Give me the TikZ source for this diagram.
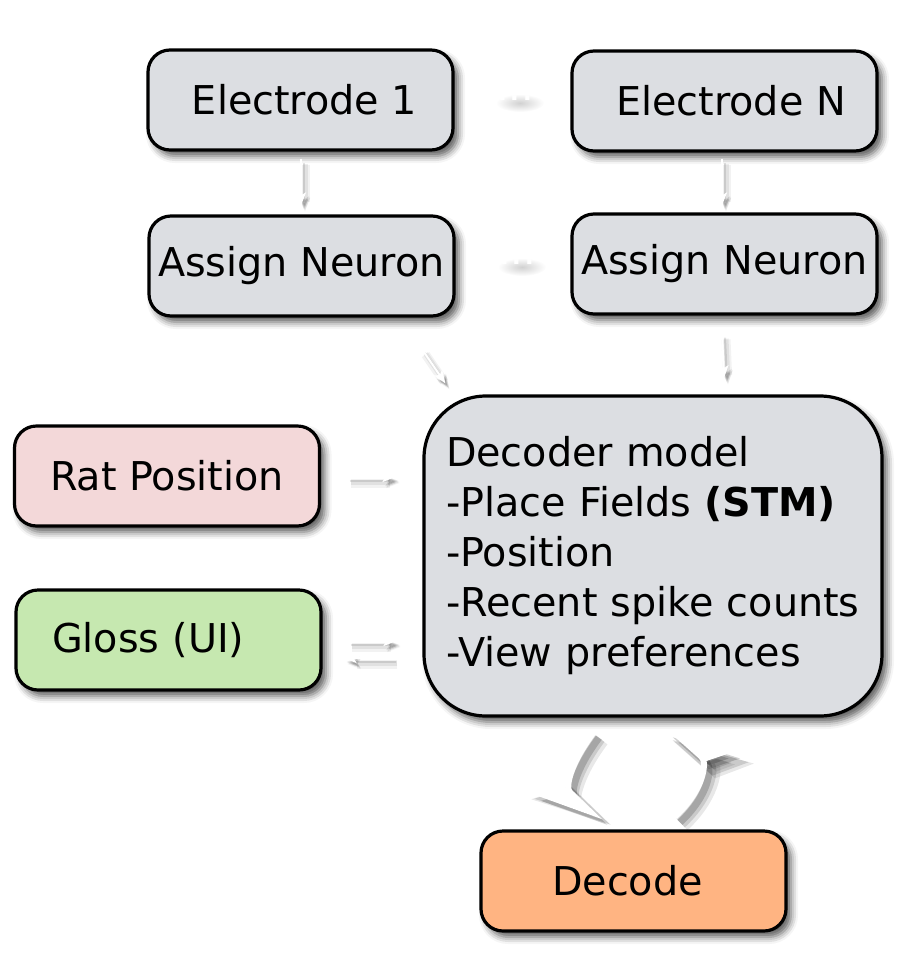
\documentclass[tikz,border=0pt]{standalone}
\usepackage{fontspec}
\setmainfont{DejaVu Sans}
\usetikzlibrary{shadows.blur,arrows.meta}
\definecolor{boxgray}{RGB}{220,222,226}
\definecolor{ratpink}{RGB}{243,216,217}
\definecolor{glossgreen}{RGB}{198,232,176}
\definecolor{decodeorange}{RGB}{255,180,130}
% draw a connector: three soft shadow layers, then the white arrow
\newcommand\shadowdraw[5]{%
  \draw[#1, #2] #5;%
  \draw[#1, #3] #5;%
  \draw[#1, #4] #5;%
  \draw[#1] #5;}
\begin{document}
\begin{tikzpicture}[x=1pt,y=-1pt,
  box/.style={draw=black, line width=3.2pt, rounded corners=22pt,
    minimum width=305pt, minimum height=100pt, inner sep=0pt,
    font=\fontsize{39.7}{50}\selectfont,
    blur shadow={shadow xshift=5pt, shadow yshift=-6pt, shadow blur radius=7pt, shadow opacity=65}},
  bigbox/.style={box, rounded corners=62pt, minimum width=458pt, minimum height=320pt, text width=414pt, align=left},
  warrow/.style={color=white, line width=2pt, -{Stealth[length=13pt,width=10pt,inset=3pt]}},
  bigarrow/.style={color=white, line width=6pt, -{Stealth[harpoon,swap,length=56pt,width=50pt,inset=14pt]}},
  shA/.style={color=black, opacity=0.05, line width=9pt, transform canvas={shift={(4pt,-6pt)}}},
  shB/.style={color=black, opacity=0.07, line width=5pt, transform canvas={shift={(4pt,-5pt)}}},
  shC/.style={color=black, opacity=0.10, transform canvas={shift={(3pt,-4pt)}}},
  bigshA/.style={color=black, opacity=0.09, line width=16pt, transform canvas={shift={(7pt,-8pt)}},
     -{Stealth[harpoon,swap,length=62pt,width=60pt,inset=15pt]}},
  bigshB/.style={color=black, opacity=0.13, line width=11pt, transform canvas={shift={(6pt,-7pt)}},
     -{Stealth[harpoon,swap,length=59pt,width=55pt,inset=14pt]}},
  bigshC/.style={color=black, opacity=0.18, line width=7pt, transform canvas={shift={(5pt,-6pt)}}},
  wtext/.style={text=white, font=\fontsize{39.7}{46}\selectfont, inner sep=0pt},
  dotshade/.style={inner color=black!18, outer color=white},
]
\useasboundingbox (0,0) rectangle (912,954);

% nodes
\node[box, fill=boxgray] (e1) at (300.5,100) {\hspace{8pt}Electrode 1};
\node[box, fill=boxgray] (eN) at (724.5,101) {\hspace{13pt}Electrode N};
\node[box, fill=boxgray] (a1) at (301.5,266) {Assign Neuron};
\node[box, fill=boxgray] (aN) at (724.5,264) {Assign Neuron};
\node[box, fill=ratpink] (rat) at (167,476) {Rat Position};
\node[box, fill=glossgreen, text width=233pt, align=left] (gloss) at (168.5,640) {Gloss (UI)};
\node[bigbox, fill=boxgray] (dec) at (653,556) {Decoder model\\-Place Fields \textbf{(STM)}\\-Position\\-Recent spike counts\\-View preferences};
\node[box, fill=decodeorange] (decode) at (633.5,881) {Decode\kern12pt\relax};

% dots and hidden label
\shade[dotshade] (520,103) ellipse [x radius=24, y radius=9];
\node[wtext] (dots1) at (515,98) {...};
\shade[dotshade] (522,267) ellipse [x radius=24, y radius=9];
\node[wtext] (dots2) at (517,262) {...};
\node[wtext] (hz) at (165,571) {30 Hz};

% connectors
\shadowdraw{warrow}{shA}{shB}{shC}{([shift={(0.5,7)}]e1.south) -- ([shift={(-0.5,-9)}]a1.north)}
\shadowdraw{warrow}{shA}{shB}{shC}{([shift={(-2.5,6)}]eN.south) -- ([shift={(-2.5,-7)}]aN.north)}
\shadowdraw{warrow}{shA}{shB}{shC}{([shift={(-34,31)}]a1.south east) -- ([shift={(23,-11)}]dec.north west)}
\shadowdraw{warrow}{shA}{shB}{shC}{([shift={(-2.5,18)}]aN.south) -- ([shift={(71,-16)}]dec.north)}
\shadowdraw{warrow}{shA}{shB}{shC}{([shift={(25.5,1)}]rat.east) -- ([shift={(-27,-79)}]dec.west)}
\shadowdraw{warrow}{shA}{shB}{shC}{([shift={(25,1)}]gloss.east) -- ([shift={(-26,85)}]dec.west)}
\shadowdraw{warrow}{shA}{shB}{shC}{([shift={(-29,102)}]dec.west) -- ([shift={(21,18)}]gloss.east)}
\shadowdraw{bigarrow}{bigshA}{bigshB}{bigshC}{([shift={(-59,14)}]dec.south) .. controls ([shift={(-85,49)}]dec.south) and ([shift={(-67.5,-41)}]decode.north) .. ([shift={(-33.5,-8)}]decode.north)}
\shadowdraw{bigarrow}{bigshA}{bigshB}{bigshC}{([shift={(41.5,-13)}]decode.north) .. controls ([shift={(71.5,-41)}]decode.north) and ([shift={(54,44)}]dec.south) .. ([shift={(17,11)}]dec.south)}
\end{tikzpicture}
\end{document}
